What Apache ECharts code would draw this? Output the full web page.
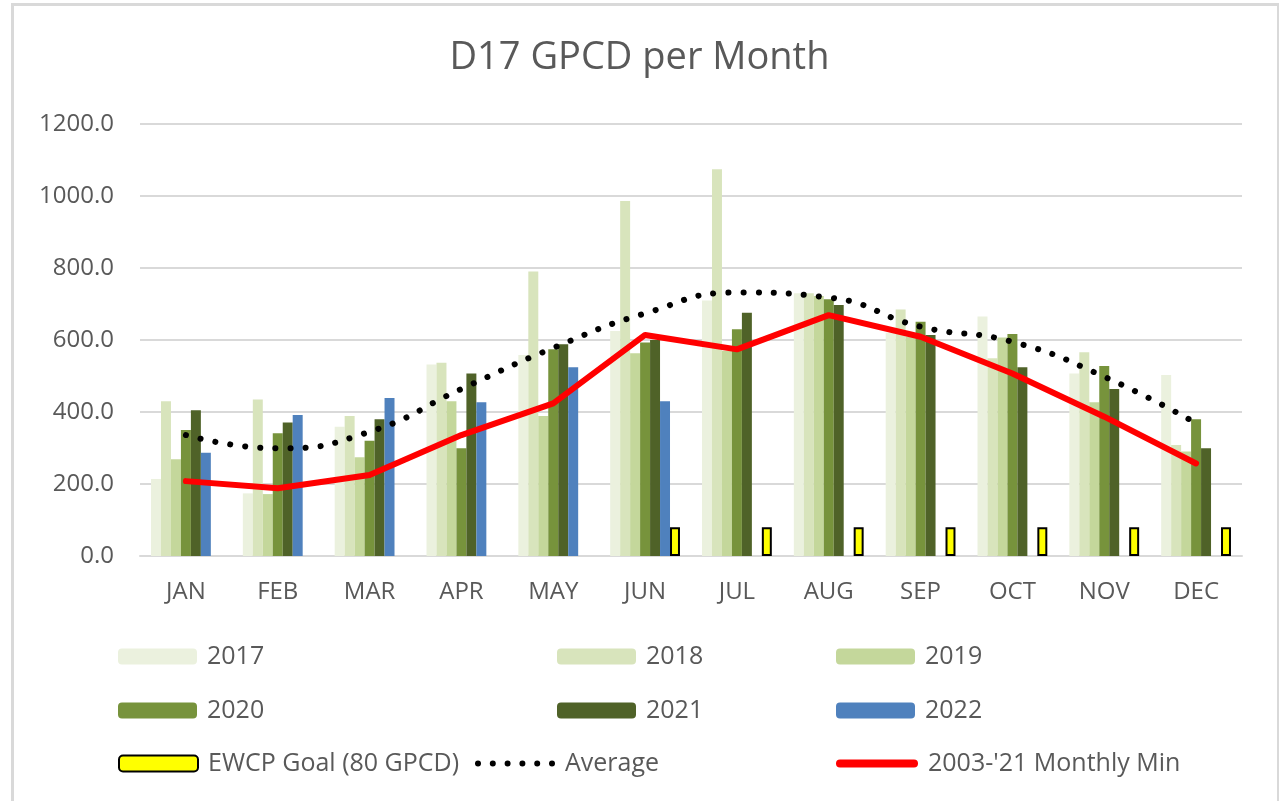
<!DOCTYPE html>
<html>
<head>
<meta charset="utf-8">
<script src="https://cdn.jsdelivr.net/npm/echarts@6/dist/echarts.min.js"></script>
<style>
  html, body { margin: 0; padding: 0; background: #fff; }
  #frame { position: absolute; left: 11px; top: 3px; width: 1263px; height: 820px; border: 3px solid #D9D9D9; border-bottom: none; }
  #main { position: absolute; left: 0; top: 0; width: 1279px; height: 801px; }
</style>
</head>
<body>
<div id="frame"></div>
<div id="main"></div>
<script>
var months = ['JAN', 'FEB', 'MAR', 'APR', 'MAY', 'JUN', 'JUL', 'AUG', 'SEP', 'OCT', 'NOV', 'DEC']
var y2017 = [214, 174, 359, 532, 558, 625, 710, 730, 620, 665, 507, 503]
var y2018 = [430, 435, 389, 537, 790, 986, 1074, 730, 685, 549, 566, 308]
var y2019 = [269, 172, 274, 430, 389, 563, 570, 722, 610, 607, 427, 290]
var y2020 = [350, 341, 320, 299, 574, 593, 630, 713, 651, 617, 528, 380]
var y2021 = [405, 371, 380, 507, 588, 600, 676, 697, 614, 524, 464, 299]
var y2022 = [287, 392, 439, 427, 524, 430, null, null, null, null, null, null]
var goal = [null, null, null, null, null, 80, 80, 80, 80, 80, 80, 80]
var average = [336, 299, 345, 464, 578, 674, 732, 718, 637, 595, 498, 369]
var monthlyMin = [208, 188, 225, 336, 424, 614, 574, 669, 609, 507, 387, 257]

var font = 'Open Sans'
var grey = '#595959'

// legend icons for the two lines
var dotsIcon = 'path://'
for (var i = 0; i < 6; i++) {
    var cx = 3 + i * 14.8
    dotsIcon += 'M' + (cx - 3) + ',3 A3,3 0 1,0 ' + (cx + 3) + ',3 A3,3 0 1,0 ' + (cx - 3) + ',3 Z '
}
var redIcon = 'path://M4,0 H78 A4,4 0 0 1 78,8 H4 A4,4 0 0 1 4,0 Z'

var echart = echarts.init(document.getElementById('main'))

function bar(name, data, color) {
    return {
        name: name,
        type: 'bar',
        barGap: '0%',
        barCategoryGap: '24%',
        itemStyle: { color: color },
        data: data
    }
}

function legendAt(item, left, top, w, h) {
    return {
        data: [item],
        left: left,
        top: top,
        itemWidth: w || 79,
        itemHeight: h || 16,
        selectedMode: false,
        textStyle: { color: grey, fontSize: 25, fontFamily: font, padding: [0, 0, 0, 5] }
    }
}

var option = {
    animation: false,
    title: {
        text: 'D17 GPCD per Month',
        left: 'center',
        top: 34,
        textStyle: { color: grey, fontSize: 38, fontWeight: 'normal', fontFamily: font }
    },
    legend: [
        legendAt('2017', 113, 639),
        legendAt('2018', 552, 639),
        legendAt('2019', 831, 639),
        legendAt('2020', 113, 693),
        legendAt('2021', 552, 693),
        legendAt('2022', 831, 693),
        legendAt('EWCP Goal (80 GPCD)', 113, 746),
        legendAt({ name: 'Average', icon: dotsIcon }, 470, 746, 80, 6),
        legendAt({ name: "2003-'21 Monthly Min", icon: redIcon }, 831, 746, 82, 8)
    ],
    grid: {
        left: 140,
        right: 37,
        top: 124,
        bottom: 245
    },
    xAxis: {
        type: 'category',
        data: months,
        axisLine: { lineStyle: { color: '#D9D9D9', width: 2 } },
        axisTick: { show: false },
        axisLabel: { color: grey, fontSize: 24, fontFamily: font, margin: 24 }
    },
    yAxis: {
        type: 'value',
        min: 0,
        max: 1200,
        interval: 200,
        axisLine: { show: false },
        axisTick: { show: false },
        splitLine: { lineStyle: { color: '#D9D9D9', width: 2 } },
        axisLabel: {
            color: grey,
            fontSize: 24,
            fontFamily: font,
            margin: 26,
            formatter: function (v) { return v.toFixed(1) }
        }
    },
    series: [
        bar('2017', y2017, '#EBF1DE'),
        bar('2018', y2018, '#D8E4BC'),
        bar('2019', y2019, '#C4D79B'),
        bar('2020', y2020, '#77933C'),
        bar('2021', y2021, '#4F6228'),
        bar('2022', y2022, '#4F81BD'),
        {
            name: 'EWCP Goal (80 GPCD)',
            type: 'bar',
            barGap: '0%',
            barCategoryGap: '24%',
            itemStyle: { color: '#FFFF00', borderColor: '#000', borderWidth: 2 },
            data: goal
        },
        {
            name: 'Average',
            type: 'line',
            smooth: true,
            symbol: 'none',
            itemStyle: { color: '#000' },
            lineStyle: { color: '#000', width: 6, type: [0.1, 15], cap: 'round' },
            data: average
        },
        {
            name: "2003-'21 Monthly Min",
            type: 'line',
            symbol: 'none',
            itemStyle: { color: '#FF0000' },
            lineStyle: { color: '#FF0000', width: 6, cap: 'round', join: 'round' },
            data: monthlyMin
        }
    ]
}
echart.setOption(option)
</script>
</body>
</html>
